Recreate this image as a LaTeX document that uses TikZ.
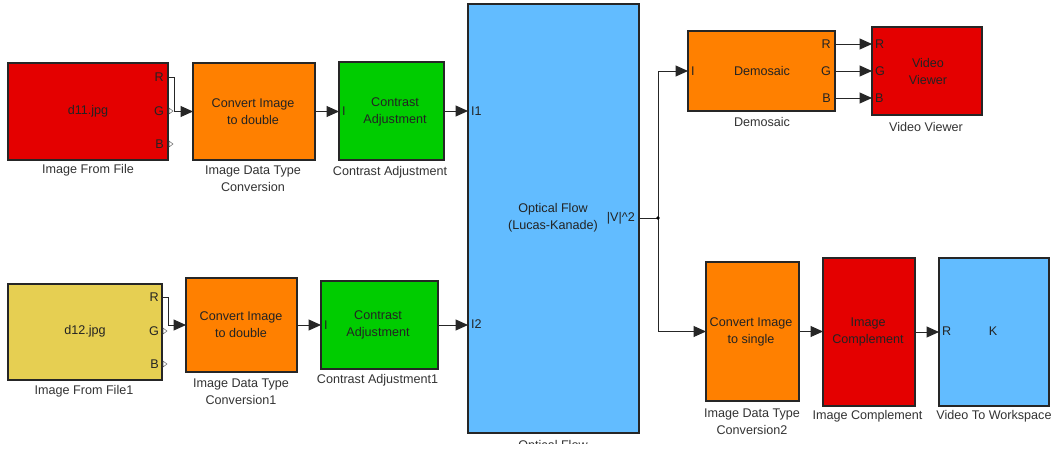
\documentclass[tikz,border=0pt]{standalone}
\usepackage{fontspec}
\setmainfont{Liberation Sans}
\usetikzlibrary{arrows.meta,calc}
\definecolor{sred}{RGB}{228,0,0}
\definecolor{sorange}{RGB}{255,128,0}
\definecolor{sgreen}{RGB}{0,204,0}
\definecolor{sblue}{RGB}{98,188,255}
\definecolor{syellow}{RGB}{230,207,82}
\definecolor{txt}{RGB}{35,35,35}
\newcommand\fs{\fontsize{12.6}{17}\selectfont}
\begin{document}
\begin{tikzpicture}[x=1pt,y=-1pt,
  blk/.style={draw=black!85, line width=1.2pt, inner sep=0pt, outer sep=0pt, anchor=north west},
  btxt/.style={font=\fs, text=txt, inner sep=0pt, align=center},
  plab/.style={font=\fs, text=txt, inner sep=0pt},
  lab/.style={font=\fs, text=black!80, inner sep=0pt, align=center},
  wire/.style={draw=black!85, line width=1pt, -{Triangle[length=12.5pt,width=11pt]}},
  line/.style={draw=black!85, line width=1pt},
  oport/.style={draw=black!60, line width=0.5pt, fill=white}]
\clip (0,0) rectangle (1057,450);
\fill[white] (0,0) rectangle (1057,450);

% blocks
\node[blk, fill=sred, minimum width=160, minimum height=97] (f1) at (8,63) {};
\node[blk, fill=sorange, minimum width=122, minimum height=97] (cv1) at (193,63) {};
\node[blk, fill=sgreen, minimum width=105, minimum height=98] (ca1) at (339,62) {};
\node[blk, fill=sblue, minimum width=171, minimum height=429] (of) at (468,4) {};
\node[blk, fill=sorange, minimum width=147, minimum height=80] (dm) at (688,31) {};
\node[blk, fill=sred, minimum width=110, minimum height=88] (vv) at (872,27) {};
\node[blk, fill=syellow, minimum width=154, minimum height=96] (f2) at (8,284) {};
\node[blk, fill=sorange, minimum width=111, minimum height=94] (cv2) at (186,278) {};
\node[blk, fill=sgreen, minimum width=117, minimum height=88] (ca2) at (321,281) {};
\node[blk, fill=sorange, minimum width=93, minimum height=139] (cs) at (706,262) {};
\node[blk, fill=sred, minimum width=92, minimum height=148] (ic) at (823,258) {};
\node[blk, fill=sblue, minimum width=110, minimum height=148] (vw) at (939,258) {};

% block texts
\node[btxt] (t1) at (88,111) {d11.jpg};
\node[btxt] (t2) at (253,111.5) {Convert Image\\to double};
\node[btxt] (t3) at (395,111.5) {Contrast\\Adjustment};
\node[btxt] (t4) at (553,218) {Optical Flow\\(Lucas-Kanade)};
\node[btxt] (t5) at (762,71) {Demosaic};
\node[btxt] (t6) at (928,71) {Video\\Viewer};
\node[btxt] (t7) at (85,331) {d12.jpg};
\node[btxt] (t8) at (241,324.5) {Convert Image\\to double};
\node[btxt] (t9) at (378,324.5) {Contrast\\Adjustment};
\node[btxt] (t10) at (751,331.5) {Convert Image\\to single};
\node[btxt] (t11) at (868,331.5) {Image\\Complement};
\node[btxt] (t12) at (993,331) {K};

% port labels
\node[plab, anchor=east] (p1) at (164,77) {R};
\node[plab, anchor=east] (p2) at (164,111) {G};
\node[plab, anchor=east] (p3) at (164,144) {B};
\node[plab, anchor=west] (p4) at (342,111) {I};
\node[plab, anchor=west] (p5) at (471,111) {I1};
\node[plab, anchor=west] (p6) at (471,324) {I2};
\node[plab, anchor=east] (p7) at (635,218) {|V|\^{}2};
\node[plab, anchor=west] (p8) at (691,71) {I};
\node[plab, anchor=east] (p9) at (831,44) {R};
\node[plab, anchor=east] (p10) at (831,71) {G};
\node[plab, anchor=east] (p11) at (831,98) {B};
\node[plab, anchor=west] (p12) at (875,44) {R};
\node[plab, anchor=west] (p13) at (875,71) {G};
\node[plab, anchor=west] (p14) at (875,98) {B};
\node[plab, anchor=east] (p15) at (159,297) {R};
\node[plab, anchor=east] (p16) at (159,331) {G};
\node[plab, anchor=east] (p17) at (159,364) {B};
\node[plab, anchor=west] (p18) at (324,325) {I};
\node[plab, anchor=west] (p19) at (942,331) {R};

% labels below blocks
\node[lab] (l1) at (88,170) {Image From File};
\node[lab] (l2) at (253,178.5) {Image Data Type\\Conversion};
\node[lab] (l3) at (390,172) {Contrast Adjustment};
\node[lab] (l4) at (762,122) {Demosaic};
\node[lab] (l5) at (926,127) {Video Viewer};
\node[lab] (l6) at (84,391) {Image From File1};
\node[lab] (l7) at (241,391.5) {Image Data Type\\Conversion1};
\node[lab] (l8) at (377.5,380) {Contrast Adjustment1};
\node[lab] (l9) at (752,421.5) {Image Data Type\\Conversion2};
\node[lab] (l10) at (867.5,416) {Image Complement};
\node[lab] (l11) at (994,416) {Video To Workspace};
\begin{scope}
\clip (0,0) rectangle (1057,443);
\node[lab] (l12) at (553,446) {Optical Flow};
\end{scope}

% port coordinates
\coordinate (f1R) at (169,77);
\coordinate (f2R) at (163,297);
\coordinate (dmR) at (835,44);
\coordinate (dmG) at (835,71);
\coordinate (dmB) at (835,98);
\coordinate (ofV) at (639,218);
\coordinate (br) at (658,218);

% unconnected output ports
\draw[oport] (169,108) -- (173,111) -- (169,114) -- cycle;
\draw[oport] (169,141) -- (173,144) -- (169,147) -- cycle;
\draw[oport] (163,328) -- (167,331) -- (163,334) -- cycle;
\draw[oport] (163,361) -- (167,364) -- (163,367) -- cycle;

% wires
\draw[wire] (f1R) -- ++(5,0) |- (cv1.west);
\draw[wire] (cv1.east) -- (cv1.east -| ca1.west);
\draw[wire] (ca1.east) -- (ca1.east -| of.west);
\draw[wire] (f2R) -- ++(5,0) |- (cv2.west);
\draw[wire] (cv2.east) -- (cv2.east -| ca2.west);
\draw[wire] (ca2.east) -- (ca2.east -| of.west);
\draw[line] (ofV) -- (br);
\draw[wire] (br) |- (dm.west);
\draw[wire] (br) |- (cs.west);
\fill[black] (br) circle (1.8);
\draw[wire] (dmR) -- (dmR -| vv.west);
\draw[wire] (dmG) -- (dmG -| vv.west);
\draw[wire] (dmB) -- (dmB -| vv.west);
\draw[wire] (cs.east) -- (cs.east -| ic.west);
\draw[wire] (ic.east) -- (ic.east -| vw.west);
\end{tikzpicture}
\end{document}
